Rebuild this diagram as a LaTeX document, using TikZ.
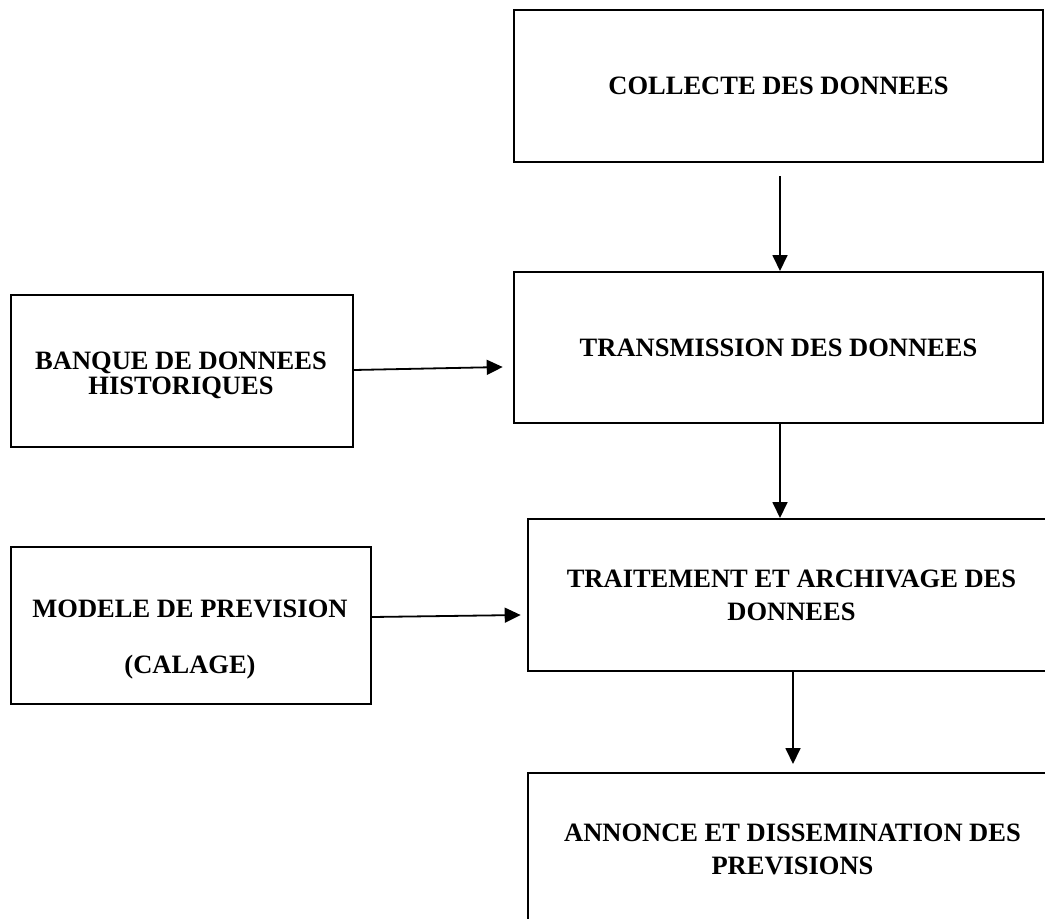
\documentclass[tikz,border=0pt]{standalone}
\usepackage{fontspec}
\setmainfont{Liberation Serif}
\usetikzlibrary{arrows.meta}
\begin{document}
\begin{tikzpicture}[x=1pt,y=-1pt,
  box/.style={draw=black, line width=2pt, rectangle, inner sep=0pt, align=center,
    font=\bfseries\fontsize{26.5}{33}\selectfont},
  txt/.style={inner sep=0pt, align=center, font=\bfseries\fontsize{26.5}{33}\selectfont},
  arr/.style={line width=1.8pt, -{Triangle[length=16pt,width=15pt]}}]
\useasboundingbox (0,0) rectangle (1045,919);
\clip (0,0) rectangle (1045,919);
\node[box, minimum width=529, minimum height=152] (collecte) at (778.5,86) {COLLECTE DES DONNEES};
\node[box, minimum width=529, minimum height=151] (transmission) at (778.5,347.5) {TRANSMISSION DES DONNEES};
\node[box, minimum width=341.6, minimum height=152] (banque) at (181.8,371) {};
\node[txt, font=\bfseries\fontsize{26.5}{25}\selectfont] (banquetxt) at (181,375) {BANQUE DE DONNEES\\HISTORIQUES};
\node[box, minimum width=359.6, minimum height=157] (modele) at (191.2,625.5) {};
\node[txt, font=\bfseries\fontsize{26.5}{56}\selectfont] (modeletxt) at (190,640) {MODELE DE PREVISION\\(CALAGE)};
\node[box, minimum width=527, minimum height=152] (traitement) at (791.5,595) {TRAITEMENT ET ARCHIVAGE DES\\DONNEES};
\node[box, minimum width=529, minimum height=152] (annonce) at (792.5,849) {ANNONCE ET DISSEMINATION DES\\PREVISIONS};
\draw[arr] ([xshift=1.5pt,yshift=-13pt]collecte.south) -- ([xshift=1.5pt]transmission.north);
\draw[arr] ([xshift=1.5pt]transmission.south) -- ([xshift=1.5pt]transmission.south |- traitement.north);
\draw[arr] ([xshift=1.5pt]traitement.south) -- ([xshift=0.5pt,yshift=8pt]annonce.north);
\draw[arr] ([yshift=1pt]banque.east) -- ([xshift=-10.3pt,yshift=-19.5pt]transmission.west);
\draw[arr] ([yshift=8.5pt]modele.east) -- ([xshift=-6.3pt,yshift=-20pt]traitement.west);
\end{tikzpicture}
\end{document}
